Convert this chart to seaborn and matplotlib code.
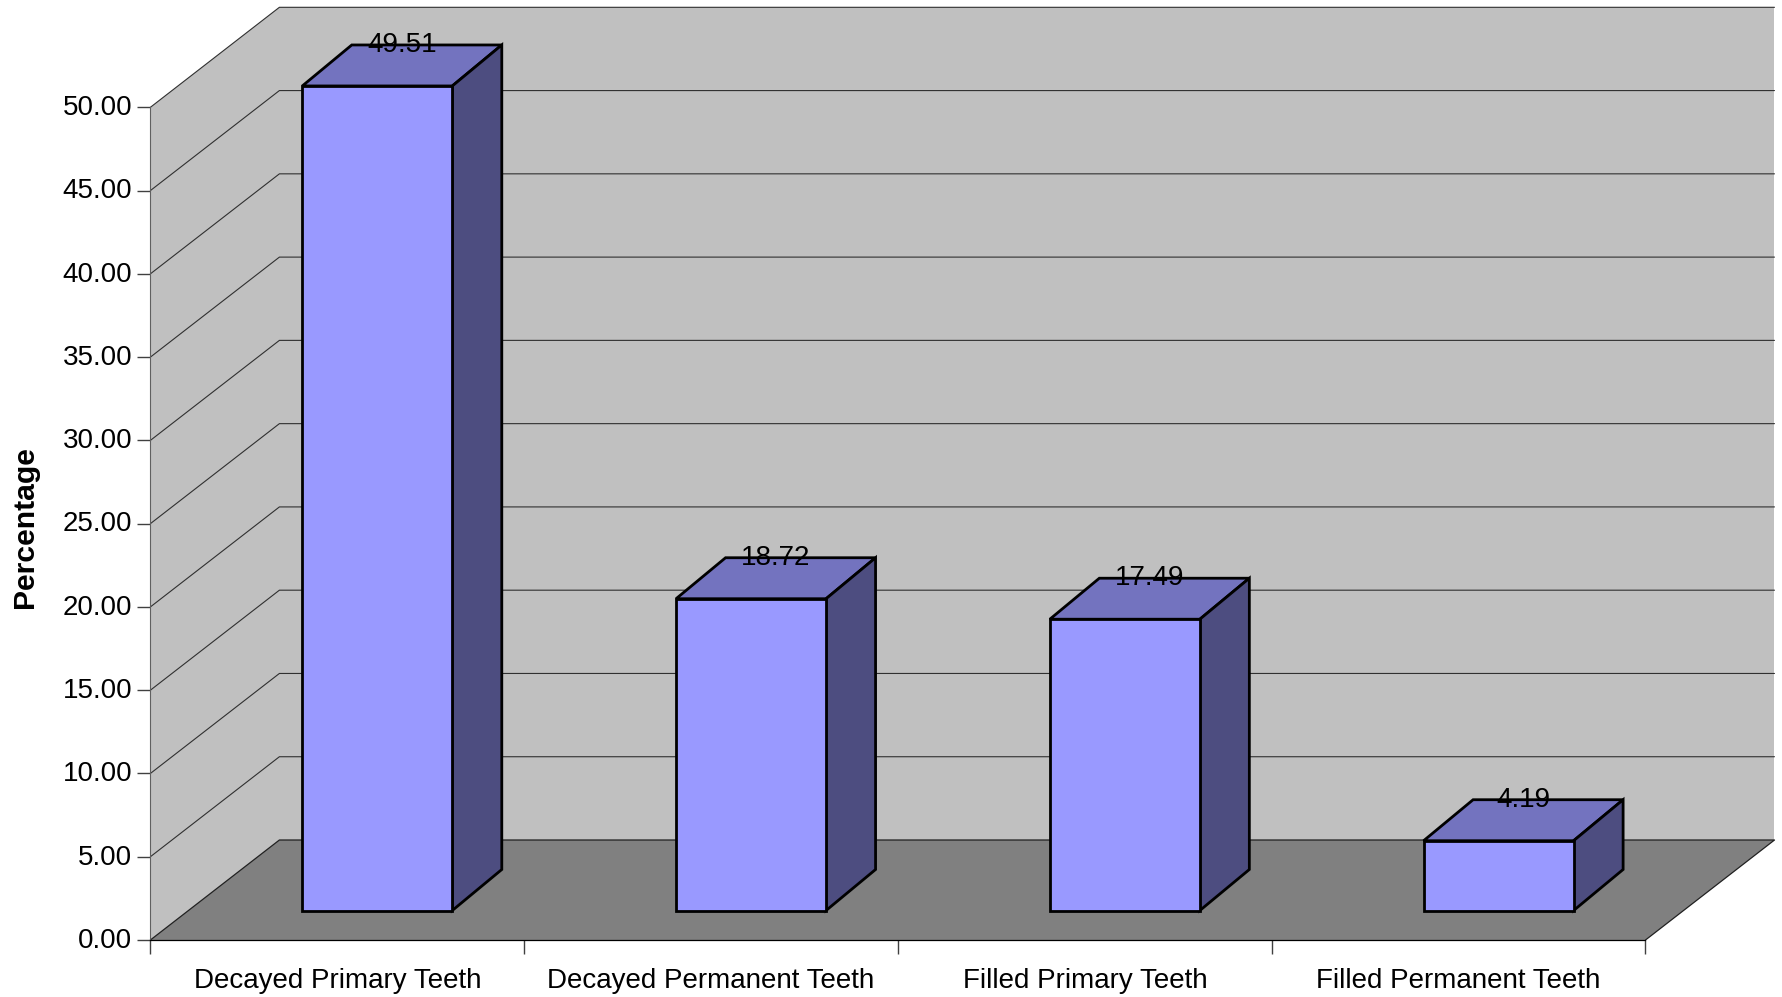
#!/usr/bin/env python3
# -*- coding: utf-8 -*-

import numpy as np
import pandas as pd
import matplotlib
matplotlib.use("Agg")
import matplotlib.pyplot as plt
from matplotlib.patches import Polygon
from matplotlib.transforms import ScaledTranslation
import seaborn as sns

categories = ["Decayed Primary Teeth", "Decayed Permanent Teeth",
              "Filled Primary Teeth", "Filled Permanent Teeth"]
percentages = [49.51, 18.72, 17.49, 4.19]
y_ticks = [0, 5, 10, 15, 20, 25, 30, 35, 40, 45, 50]

WALL = "#C0C0C0"
FLOOR = "#808080"
FRONT = "#9999FF"
TOP = "#7373BF"
SIDE = "#4D4D80"

#size of the figure and where the front plane of the fake 3d box sits, pixels
W, H = 1783, 997
LEFT, RIGHT, BASE, TOP_50 = 150.4, 1645.5, 940.0, 107.3
PX_X = (RIGHT - LEFT) / 4
PX_Y = (BASE - TOP_50) / 50
BAR_W = 150 / PX_X

#depth of the box expressed in data units
DX = 129 / PX_X
DY = 100 / PX_Y
#where the front of a bar sits inside the box, and how deep the bar is
OFF_X, OFF_Y = 40 / PX_X, 29.5 / PX_Y
BAR_DX, BAR_DY = 49.5 / PX_X, 41 / PX_Y
EDGE = 2.0


def project(x, y, d):
    return (x + d * DX, y + d * DY)


def face(ax, points, color, zorder, edge="none", lw=0):
    ax.add_patch(Polygon(points, closed=True, facecolor=color, edgecolor=edge,
                         linewidth=lw, joinstyle="miter", clip_on=False, zorder=zorder))


def draw_box(ax):
    x0, x1 = -0.5, 3.5
    y0, y1 = y_ticks[0], y_ticks[-1]

    face(ax, [project(x0, y0, 0), project(x0, y1, 0), project(x0, y1, 1), project(x0, y0, 1)], WALL, 0.5)
    face(ax, [project(x0, y0, 1), project(x0, y1, 1), project(x1, y1, 1), project(x1, y0, 1)], WALL, 0.5)
    face(ax, [project(x0, y0, 0), project(x0, y0, 1), project(x1, y0, 1), project(x1, y0, 0)], FLOOR, 0.6)

    #gridlines run along the left wall and then across the back wall
    for tick in y_ticks[1:]:
        pts = [project(x0, tick, 0), project(x0, tick, 1), project(x1, tick, 1)]
        ax.plot(*zip(*pts), color="#303030", lw=0.8, clip_on=False, zorder=0.7)

    #edges of the floor
    pts = [project(x0, y0, 0), project(x0, y0, 1), project(x1, y0, 1), project(x1, y0, 0)]
    ax.plot(*zip(*pts), color="#202020", lw=0.9, clip_on=False, zorder=0.8)


def draw_bars(ax):
    df = pd.DataFrame({"pos": np.arange(len(categories)) + OFF_X, "value": percentages})
    sns.barplot(data=df, x="pos", y="value", native_scale=True, width=BAR_W,
                color=FRONT, saturation=1, bottom=OFF_Y, edgecolor="black",
                linewidth=EDGE, ax=ax, zorder=3, clip_on=False)

    for i, value in enumerate(percentages):
        xl = i + OFF_X - BAR_W / 2
        xr = xl + BAR_W
        y_top = OFF_Y + value

        top = [(xl, y_top), (xr, y_top), (xr + BAR_DX, y_top + BAR_DY), (xl + BAR_DX, y_top + BAR_DY)]
        side = [(xr, OFF_Y), (xr, y_top), (xr + BAR_DX, y_top + BAR_DY), (xr + BAR_DX, OFF_Y + BAR_DY)]
        face(ax, top, TOP, 2.5, "black", EDGE)
        face(ax, side, SIDE, 2.5, "black", EDGE)

        ax.text(i + OFF_X + BAR_DX / 2, y_top + BAR_DY, f"{value:.2f}", ha="center", va="center",
                fontsize=20, color="black", zorder=4)


def main():
    sns.set_style("white")
    plt.rcParams["font.family"] = ["Liberation Sans", "DejaVu Sans"]

    fig = plt.figure(figsize=(W / 100, H / 100), dpi=100, facecolor="white")
    ax = fig.add_axes([LEFT / W, (H - BASE) / H, (RIGHT - LEFT) / W, (BASE - TOP_50) / H])
    ax.patch.set_visible(False)

    draw_box(ax)
    draw_bars(ax)

    ax.set_xlim(-0.5, 3.5)
    ax.set_ylim(y_ticks[0], y_ticks[-1])

    ax.set_yticks(y_ticks)
    ax.set_yticklabels([f"{t:.2f}" for t in y_ticks], fontsize=20, color="black")
    ax.tick_params(axis="y", which="major", left=True, length=9.5, width=1, color="#404040", pad=3.5)
    #the numbers sit a little above their ticks
    nudge = ScaledTranslation(0, 1.6 / 72, fig.dpi_scale_trans)
    for label in ax.get_yticklabels():
        label.set_transform(label.get_transform() + nudge)

    #ticks sit between the categories, the names go on minor ticks
    ax.set_xticks(np.arange(-0.5, 4.0, 1.0))
    ax.set_xticklabels([])
    ax.set_xticks(np.arange(len(categories)), labels=categories, minor=True)
    ax.tick_params(axis="x", which="major", bottom=True, length=10, width=1, color="#404040")
    ax.tick_params(axis="x", which="minor", bottom=False, length=0, pad=20.5, labelsize=20, labelcolor="black")

    ax.set_xlabel("")
    ax.set_ylabel("Percentage", fontsize=21.7, fontweight="bold", color="black")
    ax.yaxis.set_label_coords(-0.0745, 0.4955)

    sns.despine(ax=ax, top=True, right=True)
    ax.spines["left"].set_color("#606060")
    ax.spines["left"].set_linewidth(0.8)
    ax.spines["bottom"].set_color("black")
    ax.spines["bottom"].set_linewidth(0.9)

    fig.savefig("out.png", dpi=100)


if __name__ == "__main__":
    main()
